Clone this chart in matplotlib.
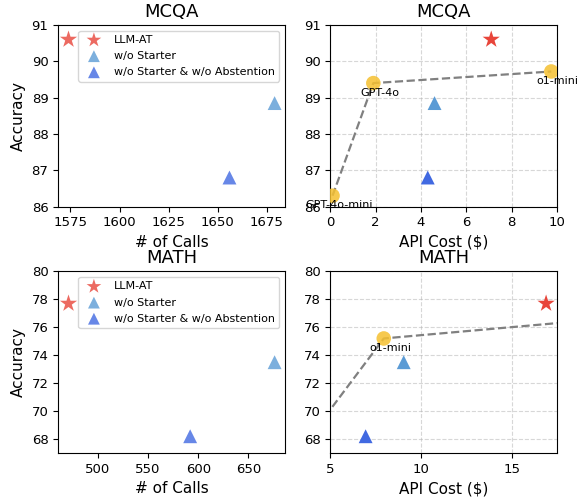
import matplotlib
matplotlib.use('Agg')
import matplotlib.pyplot as plt

# MCQA
mcqa_calls = [1574, 1679, 1656]
mcqa_cost = [7.1, 4.6, 4.3]
mcqa_acc = [90.6, 88.85, 86.8]
mcqa_models = ['GPT-4o-mini', 'GPT-4o', 'o1-mini']
mcqa_model_cost = [0.1, 1.9, 9.75]
mcqa_model_acc = [86.3, 89.4, 89.72]

# MATH
math_calls = [471, 676, 592]
math_cost = [16.9, 9.05, 6.95]
math_acc = [77.7, 73.5, 68.2]
math_models = ['GPT-4o-mini', 'o1-mini', 'GPT-4o']
math_model_cost = [0.6, 7.95, 21.0]
math_model_acc = [62.5, 75.2, 76.7]

methods = ['LLM-AT', 'w/o Starter', 'w/o Starter & w/o Abstention']
markers = ['*', '^', '^']
colors = ['#E8453A', '#5B9BD5', '#4169E1']
sizes = [170, 100, 100]

fig, axes = plt.subplots(2, 2, figsize=(5.82, 5.0), dpi=100)
fig.subplots_adjust(left=0.1, right=0.957, top=0.95, bottom=0.094,
                    wspace=0.2, hspace=0.357)

rows = [
    ('MCQA', mcqa_calls, mcqa_cost, mcqa_acc, mcqa_models, mcqa_model_cost,
     mcqa_model_acc, (86, 91), range(86, 92), (0, 10), [0, 2, 4, 6, 8, 10]),
    ('MATH', math_calls, math_cost, math_acc, math_models, math_model_cost,
     math_model_acc, (67, 80), range(68, 81, 2), (5, 17.5), [5, 10, 15]),
]

for i, (name, calls, cost, acc, models, mcost, macc, ylim, yt, xlim, xt) in enumerate(rows):
    ax = axes[i, 0]
    for j in range(3):
        ax.scatter(calls[j], acc[j], marker=markers[j], s=sizes[j],
                   color=colors[j], alpha=0.8, edgecolors='none',
                   label=methods[j], zorder=3)
    ax.set_ylim(*ylim)
    ax.set_yticks(list(yt))
    ax.set_title(name, fontsize=13)
    ax.set_xlabel('# of Calls', fontsize=11)
    ax.set_ylabel('Accuracy', fontsize=11)
    ax.legend(loc='upper right', fontsize=8, markerscale=0.85, labelspacing=0.55)
    ax.tick_params(labelsize=9.5)

    ax = axes[i, 1]
    ax.plot(mcost, macc, '--', color='gray', linewidth=1.6, zorder=2)
    ax.scatter(mcost, macc, s=110, color='#F5C030', alpha=0.85,
               edgecolors='none', zorder=3)
    for m, x, y in zip(models, mcost, macc):
        ax.annotate(m, (x, y), xytext=(4.5, -7), textcoords='offset points',
                    ha='center', va='center', fontsize=8, zorder=4)
    for j in range(3):
        ax.scatter(cost[j], acc[j], marker=markers[j], s=sizes[j],
                   color=colors[j], edgecolors='none', zorder=3)
    ax.set_xlim(*xlim)
    ax.set_xticks(xt)
    ax.set_ylim(*ylim)
    ax.set_yticks(list(yt))
    ax.grid(True, linestyle='--', alpha=0.5)
    ax.set_title(name, fontsize=13)
    ax.set_xlabel('API Cost ($)', fontsize=11)
    ax.tick_params(labelsize=9.5)

fig.savefig('out.png', dpi=100)
